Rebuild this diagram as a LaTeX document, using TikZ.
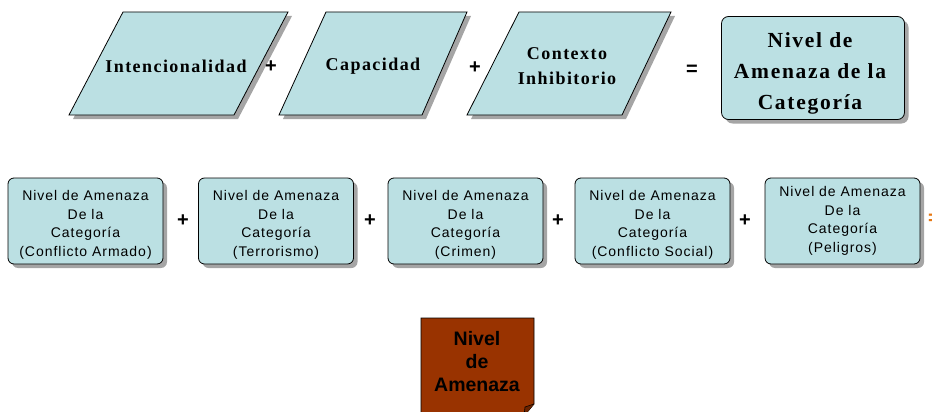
\documentclass[tikz,border=0pt]{standalone}
\usepackage{fontspec}
\setmainfont{Liberation Serif}
\setsansfont{Liberation Sans}
\newfontfamily\boxserif[LetterSpace=8]{Liberation Serif}
\newfontfamily\boxsans[LetterSpace=7]{Liberation Sans}
\usetikzlibrary{shadows}

\definecolor{boxblue}{RGB}{187,224,227}
\definecolor{shadegray}{RGB}{165,165,165}
\definecolor{amenbrown}{RGB}{153,51,0}
\definecolor{signorange}{RGB}{230,120,20}

\tikzset{
  shade box/.style={drop shadow={shadow xshift=4pt, shadow yshift=-4pt, fill=shadegray, opacity=1}},
  para/.style={draw=black, fill=boxblue, line width=0.8pt, shade box},
  paratext/.style={font=\boxserif\bfseries\fontsize{18}{25}\selectfont, align=center},
  catbox/.style={draw=black, fill=boxblue, line width=0.8pt, rounded corners=6pt, shade box,
    minimum width=155pt, minimum height=86pt, inner sep=0pt},
  cattext/.style={align=center, inner sep=0pt, font=\boxsans\fontsize{14}{18.5}\selectfont},
  opsign/.style={font=\sffamily\bfseries\fontsize{20}{20}\selectfont, inner sep=0pt},
}

\begin{document}
\begin{tikzpicture}[x=1pt, y=-1pt]
    \useasboundingbox (0,0) rectangle (932,412);

    % Top row: components
    \draw[para] (69,115) -- (123,12) -- (288,12) -- (234,115) -- cycle;
    \node[paratext] (intenc) at (176,66) {Intencionalidad};

    \draw[para] (279,115) -- (326,12) -- (467,12) -- (422,115) -- cycle;
    \node[paratext] (capac) at (373,66) {Capacidad};

    \draw[para] (467,115) -- (519,12) -- (671,12) -- (622,115) -- cycle;
    \node[paratext] (context) at (567,66) {Contexto\\Inhibitorio};

    % Signs
    \node[opsign] (plusa) at (271,67) {+};
    \node[opsign] (plusb) at (475,68) {+};
    \node[opsign] (equal) at (692,70) {=};

    % Result of the category
    \node[draw=black, fill=boxblue, line width=0.8pt, rounded corners=7pt, shade box,
      minimum width=183pt, minimum height=103pt, inner sep=0pt]
      (nivcat) at (813,68) {};
    \node[align=center, inner sep=0pt, font=\boxserif\bfseries\fontsize{21.5}{31}\selectfont]
      (nivcattxt) at (810,73) {Nivel de\\Amenaza de la\\Categoría};

    % Second row: categories
    \node[catbox] (armado) at (85.5,221) {};
    \node[cattext] (armadotxt) at (85.5,225)
      {Nivel de Amenaza\\De la\\Categoría\\(Conflicto Armado)};
    \node[catbox] (terror) at (276,221) {};
    \node[cattext] (terrortxt) at (276,225)
      {Nivel de Amenaza\\De la\\Categoría\\(Terrorismo)};
    \node[catbox] (crimen) at (465.5,221) {};
    \node[cattext] (crimentxt) at (465.5,225)
      {Nivel de Amenaza\\De la\\Categoría\\(Crimen)};
    \node[catbox] (social) at (652.5,221) {};
    \node[cattext] (socialtxt) at (652.5,225)
      {Nivel de Amenaza\\De la\\Categoría\\(Conflicto Social)};
    \node[catbox] (peligro) at (842.5,221) {};
    \node[cattext] (peligrotxt) at (842.5,221)
      {Nivel de Amenaza\\De la\\Categoría\\(Peligros)};

    \node[opsign] (plusc) at (183,221) {+};
    \node[opsign] (plusd) at (370,221) {+};
    \node[opsign] (pluse) at (558,221) {+};
    \node[opsign] (plusf) at (745,221) {+};
    \node[opsign, text=signorange] (equalb) at (934,219) {=};

    % Final level
    \draw[fill=amenbrown, line width=0.8pt]
      (421,318) -- (534,318) -- (534,404) -- (524,416) -- (421,416) -- cycle;
    \draw[fill=amenbrown!70!black, line width=0.6pt]
      (534,404) -- (525,407) -- (524,416);
    \node[align=center, inner sep=0pt, font=\sffamily\bfseries\fontsize{19.5}{23}\selectfont]
      (nivamen) at (477,362) {Nivel\\de\\Amenaza};
\end{tikzpicture}
\end{document}
